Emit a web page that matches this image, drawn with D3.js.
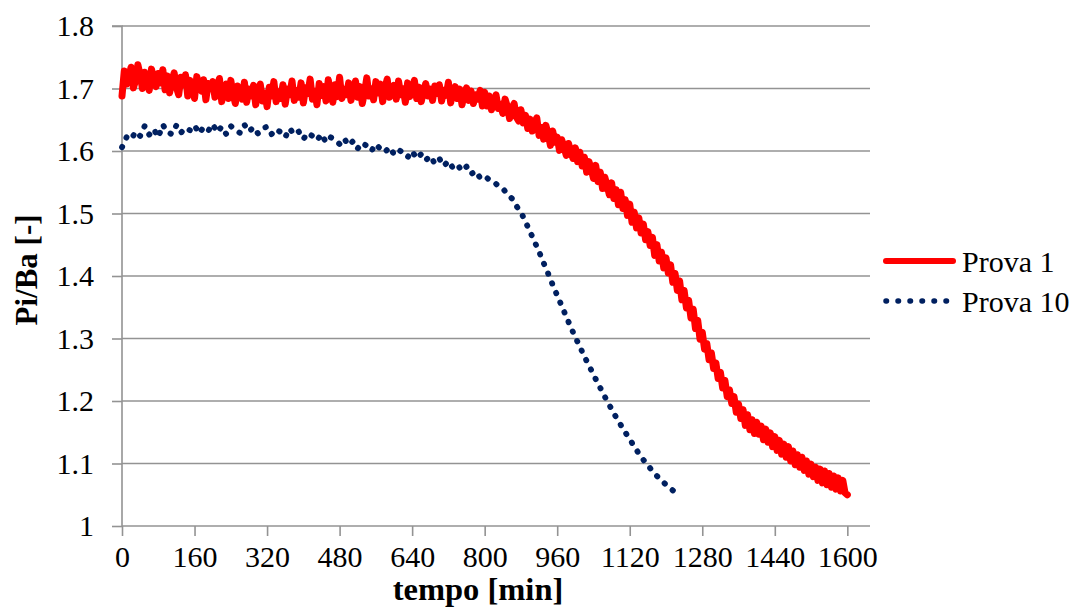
<!DOCTYPE html>
<html>
<head>
<meta charset="utf-8">
<script src="https://cdn.jsdelivr.net/npm/d3@7/dist/d3.min.js"></script>
<style>
  html, body { margin: 0; padding: 0; background: #fff; }
  svg { display: block; }
  text { font-family: "Liberation Serif", "Times New Roman", serif; fill: #000; }
</style>
</head>
<body>
<div class="chart"></div>
<script>
"use strict";

// tick labels
var xTicks = [0, 160, 320, 480, 640, 800, 960, 1120, 1280, 1440, 1600];
var yTicks = [1, 1.1, 1.2, 1.3, 1.4, 1.5, 1.6, 1.7, 1.8];

// series names
var seriesNames = ['Prova 1', 'Prova 10'];

// Prova 1, one reading every 5 min from 0 to 1600
var prova1Step = 5;
var prova1 = [
  1.688, 1.728, 1.707, 1.719, 1.734, 1.701, 1.713, 1.738, 1.722, 1.700, 1.726, 1.711, 1.697, 1.731, 1.716, 1.703, 1.724, 1.709, 1.730, 1.698,
  1.720, 1.693, 1.711, 1.725, 1.702, 1.690, 1.718, 1.706, 1.722, 1.688, 1.713, 1.699, 1.684, 1.719, 1.703, 1.696, 1.714, 1.682, 1.708, 1.700,
  1.711, 1.686, 1.702, 1.716, 1.679, 1.697, 1.707, 1.684, 1.713, 1.691, 1.676, 1.704, 1.695, 1.683, 1.710, 1.678, 1.699, 1.688, 1.705, 1.674,
  1.696, 1.707, 1.680, 1.693, 1.671, 1.702, 1.688, 1.711, 1.679, 1.695, 1.684, 1.706, 1.675, 1.699, 1.690, 1.712, 1.681, 1.697, 1.686, 1.709,
  1.677, 1.701, 1.692, 1.715, 1.683, 1.696, 1.674, 1.708, 1.689, 1.703, 1.680, 1.714, 1.693, 1.678, 1.706, 1.687, 1.718, 1.684, 1.699, 1.690,
  1.709, 1.681, 1.697, 1.712, 1.686, 1.703, 1.676, 1.694, 1.717, 1.688, 1.700, 1.682, 1.711, 1.693, 1.707, 1.679, 1.701, 1.715, 1.686, 1.696,
  1.705, 1.683, 1.712, 1.690, 1.700, 1.678, 1.709, 1.687, 1.697, 1.713, 1.684, 1.702, 1.679, 1.695, 1.708, 1.688, 1.699, 1.681, 1.704, 1.692,
  1.706, 1.680, 1.697, 1.689, 1.710, 1.677, 1.694, 1.703, 1.684, 1.699, 1.674, 1.692, 1.701, 1.681, 1.696, 1.676, 1.690, 1.683, 1.697, 1.672,
  1.694, 1.672, 1.688, 1.666, 1.679, 1.690, 1.668, 1.675, 1.660, 1.683, 1.671, 1.652, 1.669, 1.676, 1.654, 1.648, 1.666, 1.645, 1.657, 1.636,
  1.651, 1.632, 1.646, 1.653, 1.625, 1.638, 1.619, 1.641, 1.627, 1.609, 1.632, 1.614, 1.622, 1.601, 1.618, 1.606, 1.593, 1.612, 1.598, 1.588,
  1.605, 1.583, 1.598, 1.576, 1.590, 1.566, 1.583, 1.571, 1.556, 1.577, 1.551, 1.566, 1.540, 1.558, 1.545, 1.530, 1.549, 1.524, 1.538, 1.514,
  1.534, 1.508, 1.522, 1.497, 1.515, 1.486, 1.502, 1.477, 1.493, 1.469, 1.483, 1.458, 1.471, 1.449, 1.462, 1.433, 1.450, 1.424, 1.438, 1.413,
  1.429, 1.405, 1.418, 1.390, 1.404, 1.377, 1.392, 1.362, 1.377, 1.349, 1.361, 1.333, 1.347, 1.316, 1.329, 1.299, 1.310, 1.283, 1.292, 1.266,
  1.277, 1.252, 1.261, 1.236, 1.246, 1.221, 1.233, 1.207, 1.218, 1.196, 1.207, 1.182, 1.195, 1.172, 1.186, 1.161, 1.178, 1.154, 1.170, 1.148,
  1.166, 1.147, 1.160, 1.138, 1.155, 1.134, 1.149, 1.127, 1.143, 1.121, 1.137, 1.115, 1.131, 1.110, 1.127, 1.104, 1.120, 1.098, 1.114, 1.094,
  1.110, 1.089, 1.104, 1.083, 1.099, 1.079, 1.094, 1.073, 1.091, 1.069, 1.088, 1.066, 1.084, 1.062, 1.080, 1.059, 1.077, 1.056, 1.073, 1.053,
  1.050
];

// Prova 10, one reading every 10 min from 0 to 1220
var prova10Step = 10;
var prova10 = [
  1.606, 1.622, 1.618, 1.631, 1.624, 1.640, 1.626, 1.635, 1.622, 1.642, 1.630, 1.627, 1.641, 1.629, 1.637, 1.633,
  1.641, 1.628, 1.638, 1.632, 1.643, 1.630, 1.639, 1.627, 1.640, 1.633, 1.629, 1.642, 1.631, 1.638, 1.628, 1.636,
  1.639, 1.627, 1.635, 1.630, 1.622, 1.636, 1.626, 1.631, 1.619, 1.629, 1.624, 1.617, 1.627, 1.614, 1.622, 1.618,
  1.611, 1.620, 1.609, 1.616, 1.604, 1.613, 1.608, 1.600, 1.611, 1.603, 1.598, 1.606, 1.595, 1.602, 1.597, 1.590,
  1.600, 1.588, 1.595, 1.585, 1.592, 1.580, 1.588, 1.576, 1.584, 1.573, 1.578, 1.568, 1.575, 1.563, 1.568, 1.557,
  1.560, 1.554, 1.551, 1.544, 1.540, 1.531, 1.524, 1.512, 1.502, 1.487, 1.471, 1.455, 1.439, 1.421, 1.404, 1.386,
  1.369, 1.352, 1.335, 1.318, 1.302, 1.287, 1.271, 1.257, 1.242, 1.228, 1.214, 1.200, 1.187, 1.174, 1.162, 1.150,
  1.139, 1.127, 1.116, 1.106, 1.097, 1.088, 1.080, 1.073, 1.066, 1.060, 1.054
];

var W = 1083, H = 608;
var pLeft = 122, pRight = 870, pTop = 26, pBottom = 526;
var gridColor = '#939393';
var serif = '"Liberation Serif", "Times New Roman", serif';

var svg = d3.select('.chart').append('svg').attr('width', W).attr('height', H).attr('viewBox', '0 0 ' + W + ' ' + H);

var x = d3.scaleLinear().domain([0, 1650]).range([pLeft, pRight]);
var y = d3.scaleLinear().domain([1, 1.8]).range([pBottom, pTop]);

// horizontal gridlines
svg.append('g').selectAll('line').data(yTicks.slice(1)).enter().append('line')
  .attr('x1', pLeft).attr('x2', pRight)
  .attr('y1', function (d) { return y(d); }).attr('y2', function (d) { return y(d); })
  .attr('stroke', gridColor).attr('stroke-width', 1.6);

// y axis
var yAxis = d3.axisLeft(y).tickValues(yTicks).tickSize(10).tickPadding(18)
  .tickFormat(function (d) { return String(+d.toFixed(1)); });
var gy = svg.append('g').attr('transform', 'translate(' + pLeft + ',0)').call(yAxis);
gy.attr('font-family', null).attr('font-size', null);
gy.select('.domain').attr('stroke', gridColor).attr('stroke-width', 1.6).attr('d', 'M-10,' + pTop + 'H0V' + pBottom);
gy.selectAll('.tick line').attr('stroke', gridColor).attr('stroke-width', 1.6);
gy.selectAll('.tick text').style('font-family', serif).style('font-size', '30px').attr('fill', '#000');

// x axis
var xAxis = d3.axisBottom(x).tickValues(xTicks).tickSize(10).tickPadding(10)
  .tickFormat(function (d) { return String(d); });
var gx = svg.append('g').attr('transform', 'translate(0,' + pBottom + ')').call(xAxis);
gx.attr('font-family', null).attr('font-size', null);
gx.select('.domain').attr('stroke', gridColor).attr('stroke-width', 1.6).attr('d', 'M' + pLeft + ',0H' + pRight);
gx.selectAll('.tick line').attr('stroke', gridColor).attr('stroke-width', 1.6);
gx.selectAll('.tick text').style('font-family', serif).style('font-size', '30px').attr('fill', '#000');

// axis titles
svg.append('text').attr('transform', 'translate(37,270) rotate(-90)')
  .attr('text-anchor', 'middle').style('font-family', serif).style('font-size', '31px')
  .attr('font-weight', 'bold').text('Pi/Ba [-]');
svg.append('text').attr('x', 478).attr('y', 600)
  .attr('text-anchor', 'middle').style('font-family', serif).style('font-size', '32.5px')
  .attr('font-weight', 'bold').text('tempo [min]');

var line = d3.line().x(function (d) { return x(d.t); }).y(function (d) { return y(d.v); });

var data1 = prova1.map(function (v, i) { return { t: i * prova1Step, v: v }; });
var data10 = prova10.map(function (v, i) { return { t: i * prova10Step, v: v }; });

// Prova 10 - dotted navy
svg.append('path').datum(data10).attr('d', line)
  .attr('fill', 'none').attr('stroke', '#002060').attr('stroke-width', 5.8)
  .attr('stroke-linecap', 'round').attr('stroke-linejoin', 'round')
  .attr('stroke-dasharray', '0.5 10');

// Prova 1 - thick red
svg.append('path').datum(data1).attr('d', line)
  .attr('fill', 'none').attr('stroke', '#ff0000').attr('stroke-width', 7)
  .attr('stroke-linecap', 'round').attr('stroke-linejoin', 'round');

// legend
var legend = svg.append('g');
legend.append('line').attr('x1', 886).attr('x2', 953).attr('y1', 261).attr('y2', 261)
  .attr('stroke', '#ff0000').attr('stroke-width', 6).attr('stroke-linecap', 'round');
legend.append('line').attr('x1', 886).attr('x2', 948).attr('y1', 301).attr('y2', 301)
  .attr('stroke', '#002060').attr('stroke-width', 5.5).attr('stroke-linecap', 'round')
  .attr('stroke-dasharray', '0.5 11.5');
legend.append('text').attr('x', 962).attr('y', 272).style('font-family', serif).style('font-size', '30px').text(seriesNames[0]);
legend.append('text').attr('x', 962).attr('y', 312).style('font-family', serif).style('font-size', '30px').text(seriesNames[1]);
</script>
</body>
</html>
